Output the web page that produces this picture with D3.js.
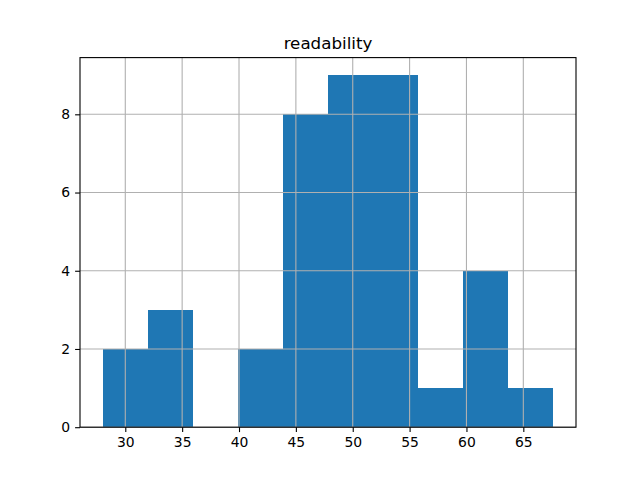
<!DOCTYPE html>
<html>
<head>
<meta charset="utf-8">
<script src="https://cdn.jsdelivr.net/npm/d3@7"></script>
<style>
  body { margin: 0; background: #fff; }
  svg { display: block; }
  .tick text { font-family: "DejaVu Sans", sans-serif; font-size: 13.9px; fill: #000; }
</style>
</head>
<body>
<div id="chart"></div>
<script>
// histogram of "readability", 10 bins
const binStart = 28.0;
const binEnd = 67.65;
const counts = [2, 3, 0, 2, 8, 9, 9, 1, 4, 1];
const xTicks = [30, 35, 40, 45, 50, 55, 60, 65];
const yTicks = [0, 2, 4, 6, 8];
const title = 'readability';

const width = 640, height = 480;
const margin = { top: 57.6, right: 64, bottom: 52.8, left: 80 };

const binWidth = (binEnd - binStart) / counts.length;
const bins = counts.map((c, i) => ({ x0: binStart + i * binWidth, x1: binStart + (i + 1) * binWidth, count: c }));

const pad = (binEnd - binStart) * 0.05;
const x = d3.scaleLinear()
    .domain([binStart - pad, binEnd + pad])
    .range([margin.left, width - margin.right]);

const y = d3.scaleLinear()
    .domain([0, d3.max(counts) * 1.05])
    .range([height - margin.bottom, margin.top]);

const svg = d3.select('#chart')
    .append('svg')
    .attr('width', width)
    .attr('height', height);

// bars
svg.append('g')
    .attr('fill', '#1f77b4')
    .attr('shape-rendering', 'crispEdges')
    .selectAll('rect')
    .data(bins.filter(d => d.count > 0))
    .join('rect')
    .attr('x', d => x(d.x0))
    .attr('width', d => x(d.x1) - x(d.x0))
    .attr('y', d => y(d.count))
    .attr('height', d => y(0) - y(d.count));

// grid on top of bars (matplotlib draws it above patches)
const grid = svg.append('g')
    .attr('stroke', '#b0b0b0')
    .attr('stroke-width', 1.1);
grid.selectAll('.gx')
    .data(xTicks)
    .join('line')
    .attr('x1', d => x(d)).attr('x2', d => x(d))
    .attr('y1', margin.top).attr('y2', height - margin.bottom);
grid.selectAll('.gy')
    .data(yTicks)
    .join('line')
    .attr('y1', d => y(d)).attr('y2', d => y(d))
    .attr('x1', margin.left).attr('x2', width - margin.right);

// axes
svg.append('g')
    .attr('transform', `translate(0,${height - margin.bottom})`)
    .call(d3.axisBottom(x).tickValues(xTicks).tickSize(4.9).tickPadding(4.9).tickFormat(d3.format('d')))
    .call(g => g.select('.domain').remove())
    .call(g => g.selectAll('.tick line').attr('stroke-width', 1.1));

svg.append('g')
    .attr('transform', `translate(${margin.left},0)`)
    .call(d3.axisLeft(y).tickValues(yTicks).tickSize(4.9).tickPadding(4.9).tickFormat(d3.format('d')))
    .call(g => g.select('.domain').remove())
    .call(g => g.selectAll('.tick line').attr('stroke-width', 1.1));

// spines
svg.append('rect')
    .attr('x', margin.left)
    .attr('y', margin.top)
    .attr('width', width - margin.left - margin.right)
    .attr('height', height - margin.top - margin.bottom)
    .attr('fill', 'none')
    .attr('stroke', '#000')
    .attr('stroke-width', 1.1);

svg.append('text')
    .attr('x', (margin.left + width - margin.right) / 2)
    .attr('y', margin.top - 8.3)
    .attr('text-anchor', 'middle')
    .attr('font-family', '"DejaVu Sans", sans-serif')
    .attr('font-size', 16.7)
    .text(title);
</script>
</body>
</html>
